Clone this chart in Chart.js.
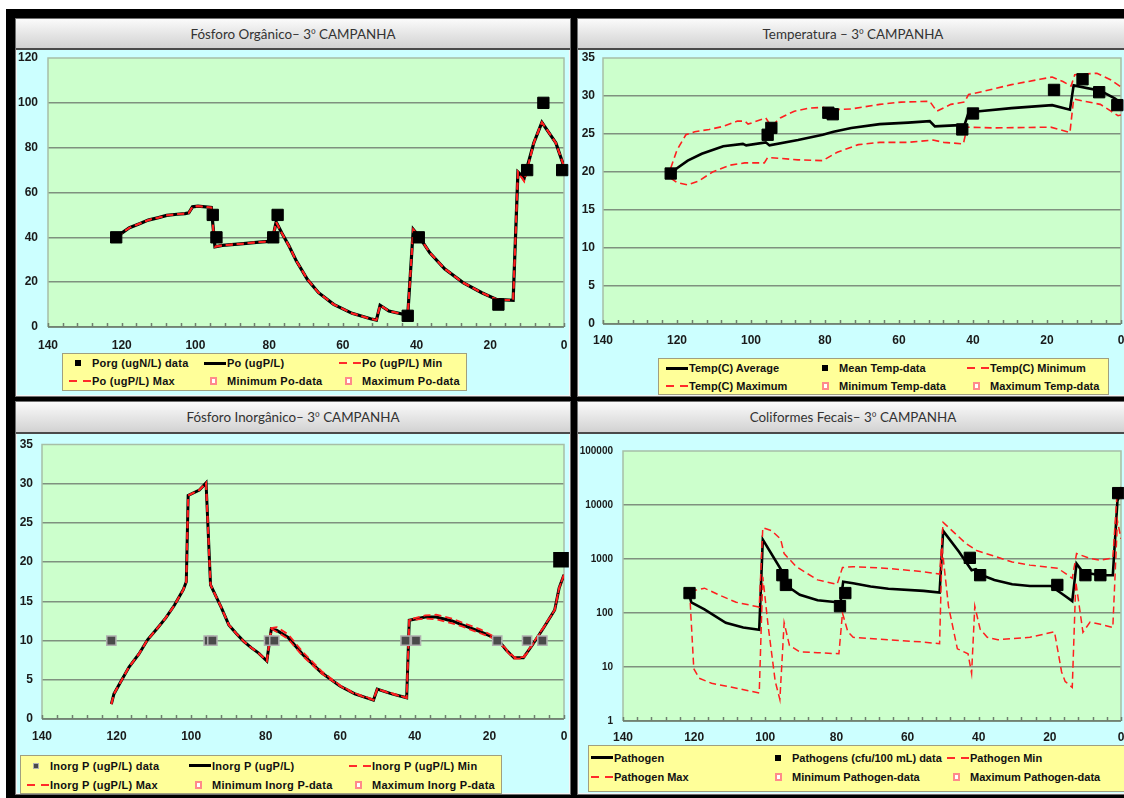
<!DOCTYPE html>
<html>
<head>
<meta charset="utf-8">
<script src="https://cdn.jsdelivr.net/npm/chart.js@4.4.0/dist/chart.umd.min.js"></script>
<style>
html, body { margin: 0; padding: 0; background: #fff; width: 1124px; height: 798px; overflow: hidden; position: relative; }
#frame { position: absolute; left: 6px; top: 9px; width: 1140px; height: 800px; background: #000; }
.panel { position: absolute; background: #ccffff; border: 1px solid #707070; box-sizing: border-box; box-shadow: inset 0 0 0 1px #f4f4f4; }
.title { position: absolute; left: 0; right: 0; top: 0; box-sizing: border-box; background: linear-gradient(#fbfbfb, #ececec 35%, #d2d2d2); border-bottom: 2px solid #4a4a4a; font: 13.4px Lato, "Open Sans", sans-serif; color: #333; text-align: center; }
.title .o { font-family: "Open Sans", sans-serif; font-size: 12.5px; }
canvas { position: absolute; }
.legend { position: absolute; box-sizing: border-box; background: #ffff99; border: 1px solid #a0a080; display: grid; grid-auto-rows: var(--rh); font: bold 11px "Liberation Sans", Arial, sans-serif; letter-spacing: var(--ls); color: #111; }
.item { display: flex; align-items: center; white-space: nowrap; }
.mk { position: relative; flex: none; width: var(--mw); height: 100%; }
.mk i { position: absolute; top: 50%; display: block; }
.mk .solid { right: 1px; width: 22px; height: 3px; margin-top: -1.5px; background: #000; }
.mk .dash { right: 1px; width: 22px; height: 2px; margin-top: -1px; background: repeating-linear-gradient(90deg, #ff2a2a 0 8px, transparent 8px 14px); }
.mk .sq { right: 11px; width: 6px; height: 6px; margin-top: -3px; box-sizing: border-box; }
.mk .hollow { right: 10px; width: 7px; height: 8px; margin-top: -4px; box-sizing: border-box; border: 2px solid #ff8a8a; background: #fff; }
</style>
</head>
<body>
<div id="frame"></div>

<div class="panel" style="left:15px;top:18px;width:556px;height:379px;"><div class="title" style="height:31px;line-height:30px;">Fósforo Orgânico– 3<span class="o">º</span> CAMPANHA</div></div>
<div class="panel" style="left:577px;top:18px;width:552px;height:379px;"><div class="title" style="height:31px;line-height:30px;">Temperatura – 3<span class="o">º</span> CAMPANHA</div></div>
<div class="panel" style="left:15px;top:401px;width:556px;height:394px;"><div class="title" style="height:32px;line-height:31px;">Fósforo Inorgânico– 3<span class="o">º</span> CAMPANHA</div></div>
<div class="panel" style="left:577px;top:401px;width:552px;height:394px;"><div class="title" style="height:32px;line-height:31px;">Coliformes Fecais– 3<span class="o">º</span> CAMPANHA</div></div>

<canvas id="poChart" width="570" height="348" style="left:15px;top:49px;"></canvas>
<canvas id="tempChart" width="563" height="348" style="left:577px;top:49px;"></canvas>
<canvas id="pinChart" width="570" height="362" style="left:15px;top:433px;"></canvas>
<canvas id="pathChart" width="563" height="362" style="left:577px;top:433px;"></canvas>

<div class="legend" id="poLegend" style="left:62px;top:353px;width:405px;height:38px;--rh:18px;--mw:29px;--ls:0.25px;grid-template-columns:135px 135px 135px;"></div>
<div class="legend" id="tempLegend" style="left:658px;top:358px;width:451px;height:37px;--rh:18px;--mw:30px;--ls:0.05px;grid-template-columns:150px 151px 150px;"></div>
<div class="legend" id="pinLegend" style="left:20px;top:755px;width:482px;height:39px;--rh:19px;--mw:29px;--ls:0.25px;grid-template-columns:162px 160px 160px;"></div>
<div class="legend" id="pathLegend" style="left:588px;top:745px;width:560px;height:47px;--rh:19px;--mw:25px;--ls:0px;grid-template-columns:178px 178px 178px;padding-top:2px;"></div>

<script>
// distance axis (km from mouth), shared by all four panels
const kmMin = 0;
const kmMax = 140;
const kmStep = 20;
const kmMinorStep = 4;

// Fósforo Orgânico
const porgDataKm  = [121.5, 95.3, 94.3, 78.9, 77.7, 42.4, 39.4, 17.8, 10.0, 5.6, 0.5];
const porgDataVal = [40, 50, 40, 40, 50, 5, 40, 10, 70, 100, 70];
const poKm  = [121.4, 119.9, 117.9, 115.0, 112.8, 110.0, 107.8, 105.0, 102.8, 101.8, 100.8, 99.3, 95.7, 94.7, 92.7, 87.7, 82.7, 79.2, 78.1, 76.6, 74.6, 72.6, 69.6, 66.6, 62.5, 57.5, 52.5, 50.9, 49.9, 47.5, 42.4, 40.9, 39.4, 36.4, 32.4, 27.4, 22.3, 18.3, 13.8, 12.5, 10.8, 8.2, 6.0, 2.2, 0.2];
const poVal = [40.0, 42.0, 44.3, 46.2, 47.7, 48.8, 49.8, 50.3, 50.6, 50.9, 53.6, 53.9, 53.3, 35.8, 36.4, 37.1, 37.9, 38.3, 46.8, 42.0, 36.1, 29.4, 21.2, 15.3, 10.1, 6.1, 3.7, 3.1, 9.7, 7.1, 5.2, 43.5, 40.5, 33.1, 26.0, 19.8, 15.3, 12.3, 11.9, 69.1, 66.5, 82.1, 91.3, 82.1, 72.5];
const poMinVal = [40.0, 42.0, 44.3, 46.2, 47.7, 48.8, 49.8, 50.3, 50.6, 50.9, 53.6, 53.9, 53.3, 35.8, 36.4, 37.1, 37.9, 38.3, 46.8, 42.0, 36.1, 29.4, 21.2, 15.3, 10.1, 6.1, 3.7, 3.1, 9.7, 7.1, 5.2, 43.5, 40.5, 33.1, 26.0, 19.8, 15.3, 12.3, 11.9, 69.1, 65.0, 82.1, 91.3, 82.1, 72.5];
const poMaxVal = [40.0, 42.0, 44.3, 46.2, 47.7, 48.8, 49.8, 50.3, 50.6, 50.9, 53.6, 53.9, 53.3, 35.8, 36.4, 37.1, 37.9, 38.3, 46.8, 42.0, 36.1, 29.4, 21.2, 15.3, 10.1, 6.1, 3.7, 3.1, 9.7, 7.1, 5.2, 43.5, 40.5, 33.1, 26.0, 19.8, 15.3, 12.3, 11.9, 69.1, 65.0, 82.1, 91.3, 82.1, 72.5];
const poTicks = [0, 120, 20];

// Temperatura
const tempDataKm  = [121.7, 95.5, 94.5, 79.1, 77.9, 42.9, 40.0, 18.1, 10.4, 5.9, 1.0];
const tempDataVal = [19.8, 24.9, 25.8, 27.8, 27.6, 25.6, 27.7, 30.8, 32.2, 30.5, 28.8];
const tempAvgKm  = [121.7, 120.0, 117.1, 113.3, 107.5, 102.2, 101.3, 96.0, 95.0, 87.3, 80.6, 77.7, 72.9, 65.2, 57.5, 51.7, 50.3, 46.4, 42.3, 41.2, 38.3, 29.6, 18.6, 13.8, 12.8, 5.6, 1.7, 0.0];
const tempAvgVal = [19.8, 20.5, 21.5, 22.4, 23.4, 23.7, 23.5, 23.9, 23.5, 24.2, 24.9, 25.3, 25.8, 26.3, 26.5, 26.7, 26.0, 26.1, 26.2, 27.8, 28.0, 28.4, 28.8, 28.2, 31.4, 30.7, 29.7, 29.1];
const tempMaxKm  = [121.7, 120.0, 117.6, 115.2, 111.3, 107.5, 103.7, 101.7, 100.8, 96.0, 94.5, 92.1, 88.3, 84.4, 80.6, 77.7, 72.9, 65.2, 59.4, 51.7, 49.8, 46.0, 42.3, 41.2, 37.3, 29.6, 21.9, 18.6, 15.7, 13.5, 12.5, 6.5, 2.7, 0.0];
const tempMaxVal = [20.5, 22.9, 24.9, 25.3, 25.6, 26.0, 26.7, 26.7, 26.3, 27.1, 26.0, 27.1, 28.0, 28.4, 28.5, 28.2, 28.3, 28.9, 29.2, 29.3, 28.0, 28.9, 29.2, 30.2, 30.6, 31.5, 32.2, 32.5, 31.9, 31.3, 32.8, 33.0, 32.1, 31.2];
const tempMinKm  = [121.7, 120.0, 117.1, 114.2, 110.4, 105.6, 101.7, 96.4, 95.5, 92.1, 87.3, 80.6, 76.7, 71.0, 65.2, 57.5, 50.8, 47.9, 42.6, 41.6, 34.4, 19.0, 13.8, 12.8, 5.6, 2.7, 0.8, 0.0];
const tempMinVal = [19.2, 18.6, 18.3, 18.8, 20.0, 20.9, 21.2, 21.2, 21.9, 21.8, 21.6, 21.5, 22.6, 23.6, 23.9, 23.9, 24.2, 23.9, 23.7, 25.9, 25.8, 25.9, 25.2, 29.6, 28.9, 28.0, 27.4, 27.5];
const tempTicks = [0, 35, 5];

// Fósforo Inorgânico
const pinDataKm  = [121.4, 95.3, 94.3, 79.1, 77.7, 42.5, 39.7, 17.9, 9.9, 5.8, 0.8];
const pinDataVal = [10, 10, 10, 10, 10, 10, 10, 10, 10, 10, 20.3];
const pinKm  = [121.4, 120.7, 118.7, 116.7, 114.0, 111.7, 109.0, 106.8, 104.5, 102.1, 101.3, 100.8, 97.8, 96.0, 94.8, 91.9, 89.9, 87.9, 85.9, 83.9, 81.9, 79.7, 78.5, 77.0, 74.0, 70.0, 65.0, 60.1, 56.1, 51.1, 50.1, 46.2, 42.2, 41.5, 37.2, 34.3, 30.0, 27.3, 22.3, 17.9, 15.5, 13.4, 10.9, 8.4, 5.5, 2.5, 1.3, 0.0];
const pinVal = [1.9, 3.2, 4.9, 6.6, 8.3, 10.1, 11.6, 12.9, 14.5, 16.5, 17.5, 28.5, 29.2, 30.1, 17.1, 14.2, 12.0, 10.9, 9.9, 9.1, 8.4, 7.4, 11.5, 11.3, 10.4, 8.2, 5.9, 4.2, 3.2, 2.4, 3.8, 3.2, 2.7, 12.6, 13.0, 13.0, 12.5, 12.0, 11.1, 10.2, 8.8, 7.8, 7.8, 9.5, 11.6, 13.9, 16.7, 18.4];
const pinMinVal = [1.9, 3.2, 4.9, 6.6, 8.3, 10.1, 11.6, 12.9, 14.5, 16.5, 17.5, 28.5, 29.2, 30.1, 17.1, 14.2, 12.0, 10.9, 9.9, 9.1, 8.4, 7.4, 11.5, 11.1, 10.2, 8.0, 5.8, 4.2, 3.2, 2.4, 3.8, 3.2, 2.7, 12.6, 12.8, 12.7, 12.2, 11.8, 10.9, 10.1, 8.7, 7.7, 7.7, 9.5, 11.6, 13.9, 16.7, 18.4];
const pinMaxVal = [1.9, 3.2, 4.9, 6.6, 8.3, 10.1, 11.6, 12.9, 14.5, 16.5, 17.5, 28.5, 29.2, 30.1, 17.1, 14.2, 12.0, 10.9, 9.9, 9.1, 8.4, 7.4, 11.6, 11.7, 10.8, 8.5, 6.1, 4.3, 3.3, 2.5, 3.8, 3.3, 2.7, 12.7, 13.2, 13.3, 12.8, 12.3, 11.4, 10.3, 8.9, 7.9, 7.9, 9.6, 11.7, 13.9, 16.7, 18.4];
const pinTicks = [0, 35, 5];

// Coliformes Fecais
const pathDataKm  = [121.3, 95.2, 94.2, 79.0, 77.5, 42.5, 39.6, 17.9, 10.0, 5.8, 0.8];
const pathDataVal = [234, 502, 331, 134, 234, 1050, 502, 331, 502, 502, 16600];
const pathKm  = [121.3, 120.8, 117.1, 111.1, 106.2, 101.7, 100.7, 95.2, 93.7, 90.3, 85.3, 79.8, 78.8, 78.1, 75.3, 70.4, 65.4, 55.5, 51.0, 50.0, 45.5, 42.0, 40.8, 39.1, 35.6, 30.6, 25.6, 19.7, 16.2, 13.7, 12.5, 10.7, 5.8, 2.3, 1.0, 0.3];
const pathVal = [210, 158, 117, 66, 54, 49, 2290, 580, 310, 218, 172, 158, 166, 380, 355, 310, 282, 257, 240, 3310, 1350, 620, 650, 500, 410, 340, 317, 317, 218, 166, 820, 565, 500, 500, 12000, 15500];
const pathMaxKm  = [121.1, 117.1, 113.1, 108.2, 101.7, 100.7, 98.2, 95.7, 94.7, 91.3, 85.3, 79.8, 78.3, 75.3, 65.4, 55.5, 51.0, 50.0, 43.5, 40.6, 30.6, 25.6, 17.7, 13.7, 12.5, 8.7, 5.8, 2.3, 1.0, 0.0];
const pathMaxVal = [251, 288, 218, 158, 129, 3800, 3330, 2340, 1260, 720, 410, 340, 695, 720, 670, 580, 525, 4770, 1910, 1440, 880, 770, 670, 440, 1260, 1020, 950, 1050, 20500, 21000];
const pathMinKm  = [121.1, 120.1, 118.6, 115.1, 110.1, 101.7, 100.7, 99.2, 97.2, 95.9, 94.7, 93.2, 90.3, 85.3, 79.3, 78.3, 76.8, 75.3, 65.4, 55.5, 51.0, 50.3, 48.5, 46.0, 43.0, 42.0, 41.1, 39.6, 37.6, 34.6, 25.6, 18.7, 16.7, 15.7, 13.7, 12.7, 10.7, 8.7, 5.8, 2.3, 1.0, 0.0];
const pathMinVal = [155, 9.3, 6.2, 5.0, 4.3, 3.3, 470, 58, 5.4, 2.5, 66, 25, 19, 18.4, 17.6, 100, 45, 35.5, 32, 29, 27, 1620, 134, 21.7, 17.6, 7.6, 134, 50, 35.5, 32, 35.5, 45, 8.1, 5.4, 4.2, 380, 44, 68, 62, 54, 5100, 2350];
const pathTicks = [1, 10, 100, 1000, 10000, 100000];

const gridColor = '#7f917f';
const frameColor = '#a7bfa7';
const red = '#ff1f1f';
const clear = 'rgba(0,0,0,0)';

Chart.defaults.font.family = '"Liberation Sans", Arial, sans-serif';
Chart.defaults.animation = false;

function pts(xs, ys) {
    return xs.map(function (x, i) { return { x: x, y: ys[i] }; });
}

// green plot area, light frame, dark base line and inside minor ticks like the spreadsheet
var plotFrame = {
    id: 'plotFrame',
    beforeDraw: function (chart) {
        var a = chart.chartArea, ctx = chart.ctx;
        ctx.save();
        ctx.fillStyle = '#ccffcc';
        ctx.fillRect(a.left, a.top, a.right - a.left, a.bottom - a.top);
        ctx.restore();
    },
    beforeDatasetsDraw: function (chart) {
        var a = chart.chartArea, ctx = chart.ctx, xs = chart.scales.x;
        ctx.save();
        ctx.strokeStyle = frameColor;
        ctx.lineWidth = 1.5;
        ctx.beginPath();
        ctx.moveTo(a.left, a.bottom);
        ctx.lineTo(a.left, a.top);
        ctx.lineTo(a.right, a.top);
        ctx.lineTo(a.right, a.bottom);
        ctx.stroke();
        ctx.strokeStyle = '#6f7f6f';
        ctx.lineWidth = 1.5;
        ctx.beginPath();
        ctx.moveTo(a.left, a.bottom);
        ctx.lineTo(a.right, a.bottom);
        for (var v = kmMin; v <= kmMax; v += kmMinorStep) {
            var px = Math.round(xs.getPixelForValue(v)) + 0.5;
            ctx.moveTo(px, a.bottom);
            ctx.lineTo(px, a.bottom - 4);
        }
        ctx.stroke();
        ctx.restore();
    }
};

// gaps between labels and plot come from invisible tick marks, so Chart.js does not pad the plot area for them
function xAxis(gap) {
    return {
        type: 'linear', min: kmMin, max: kmMax, reverse: true,
        afterFit: function (s) { s.height = 30; },
        grid: { display: true, drawOnChartArea: false, drawTicks: true, tickLength: gap, tickColor: clear },
        border: { display: false },
        ticks: { stepSize: kmStep, padding: 0, maxRotation: 0, autoSkip: false, color: '#1a1a1a', font: { size: 12, weight: 'bold' } }
    };
}

function yAxis(t, width, gap) {
    var top = t[1];
    return {
        type: 'linear', min: t[0], max: t[1],
        afterFit: function (s) { s.width = width; },
        grid: { drawTicks: true, tickLength: gap, tickColor: clear, lineWidth: 1.6,
            color: function (c) { return c.tick.value === top ? clear : gridColor; } },
        border: { display: false },
        ticks: { stepSize: t[2], padding: 0, color: '#1a1a1a', font: { size: 12, weight: 'bold' } }
    };
}

function logAxis(t, width, gap) {
    var top = t[t.length - 1];
    return {
        type: 'logarithmic', min: t[0], max: top,
        afterFit: function (s) { s.width = width; },
        afterBuildTicks: function (s) { s.ticks = t.map(function (v) { return { value: v }; }); },
        grid: { drawTicks: true, tickLength: gap, tickColor: clear, lineWidth: 1.6,
            color: function (c) { return c.tick.value === top ? clear : gridColor; } },
        border: { display: false },
        ticks: { padding: 0, color: '#1a1a1a', font: { size: 10, weight: 'bold' }, callback: function (v) { return String(v); } }
    };
}

function dataSet(label, data, fill, edge, order) {
    return { label: label, data: data, showLine: false, pointStyle: 'rect', pointRadius: 8, pointHoverRadius: 8,
        backgroundColor: fill, borderColor: edge, pointBorderWidth: 1, order: order, clip: false };
}
function lineSet(label, data, color, width, dash, order) {
    return { label: label, data: data, showLine: true, borderColor: color, backgroundColor: color, borderWidth: width,
        borderDash: dash, pointRadius: 0, pointHoverRadius: 0, tension: 0, order: order };
}
function emptySet(label) {
    return { label: label, data: [], showLine: false, pointStyle: 'rect', backgroundColor: '#ffffff', borderColor: '#ff6f6f' };
}

function makeChart(id, datasets, xGap, yScale, pad) {
    return new Chart(document.getElementById(id), {
        type: 'scatter',
        data: { datasets: datasets },
        options: {
            responsive: false,
            layout: { padding: pad },
            scales: { x: xAxis(xGap), y: yScale },
            plugins: { legend: { display: false }, tooltip: { enabled: false } }
        },
        plugins: [plotFrame]
    });
}

function buildLegend(chart, boxId) {
    var box = document.getElementById(boxId);
    chart.data.datasets.forEach(function (ds) {
        var item = document.createElement('div');
        item.className = 'item';
        var mk = document.createElement('span');
        mk.className = 'mk';
        var sw = document.createElement('i');
        if (ds.showLine) {
            sw.className = ds.borderDash ? 'dash' : 'solid';
        } else if (ds.backgroundColor === '#ffffff') {
            sw.className = 'hollow';
        } else {
            sw.className = 'sq';
            sw.style.background = ds.backgroundColor;
            sw.style.border = '1px solid ' + ds.borderColor;
        }
        mk.appendChild(sw);
        var tx = document.createElement('span');
        tx.textContent = ds.label;
        item.appendChild(mk);
        item.appendChild(tx);
        box.appendChild(item);
    });
}

var dash = [7, 4];

var poChart = makeChart('poChart', [
    dataSet('Porg (ugN/L) data', pts(porgDataKm, porgDataVal), '#000', '#000', 0),
    lineSet('Po (ugP/L)', pts(poKm, poVal), '#000', 3.2, undefined, 3),
    lineSet('Po (ugP/L) Min', pts(poKm, poMinVal), red, 1.8, dash, 2),
    lineSet('Po (ugP/L) Max', pts(poKm, poMaxVal), red, 1.8, dash, 1),
    emptySet('Minimum Po-data'),
    emptySet('Maximum Po-data')
], 11, yAxis(poTicks, 33, 10), { left: 0, top: 9, right: 21, bottom: 40 });
buildLegend(poChart, 'poLegend');

var tempChart = makeChart('tempChart', [
    lineSet('Temp(C) Average', pts(tempAvgKm, tempAvgVal), '#000', 2.6, undefined, 3),
    dataSet('Mean Temp-data', pts(tempDataKm, tempDataVal), '#000', '#000', 0),
    lineSet('Temp(C) Minimum', pts(tempMinKm, tempMinVal), red, 1.6, dash, 2),
    lineSet('Temp(C) Maximum', pts(tempMaxKm, tempMaxVal), red, 1.6, dash, 1),
    emptySet('Minimum Temp-data'),
    emptySet('Maximum Temp-data')
], 9, yAxis(tempTicks, 26, 8), { left: 0, top: 9, right: 19, bottom: 43 });
buildLegend(tempChart, 'tempLegend');

var pinData = dataSet('Inorg P (ugP/L) data', pts(pinDataKm, pinDataVal), '#4a4a4a', '#b0b0b0', 0);
pinData.pointRadius = function (c) { return c.dataIndex === pinDataKm.length - 1 ? 10 : 6.5; };
pinData.pointBackgroundColor = function (c) { return c.dataIndex === pinDataKm.length - 1 ? '#000' : '#4a4a4a'; };
pinData.pointBorderColor = function (c) { return c.dataIndex === pinDataKm.length - 1 ? '#000' : '#b0b0b0'; };
pinData.pointBorderWidth = 1.5;
var pinChart = makeChart('pinChart', [
    pinData,
    lineSet('Inorg P (ugP/L)', pts(pinKm, pinVal), '#000', 3, undefined, 3),
    lineSet('Inorg P (ugP/L) Min', pts(pinKm, pinMinVal), red, 1.8, dash, 2),
    lineSet('Inorg P (ugP/L) Max', pts(pinKm, pinMaxVal), red, 1.8, dash, 1),
    emptySet('Minimum Inorg P-data'),
    emptySet('Maximum Inorg P-data')
], 10, yAxis(pinTicks, 27, 9), { left: 0, top: 11, right: 21, bottom: 46 });
buildLegend(pinChart, 'pinLegend');

var pathChart = makeChart('pathChart', [
    lineSet('Pathogen', pts(pathKm, pathVal), '#000', 2.6, undefined, 3),
    dataSet('Pathogens (cfu/100 mL) data', pts(pathDataKm, pathDataVal), '#000', '#000', 0),
    lineSet('Pathogen Min', pts(pathMinKm, pathMinVal), red, 1.5, dash, 2),
    lineSet('Pathogen Max', pts(pathMaxKm, pathMaxVal), red, 1.5, dash, 1),
    emptySet('Minimum Pathogen-data'),
    emptySet('Maximum Pathogen-data')
], 9, logAxis(pathTicks, 46, 10), { left: 0, top: 18, right: 19, bottom: 44 });
buildLegend(pathChart, 'pathLegend');
</script>
</body>
</html>
